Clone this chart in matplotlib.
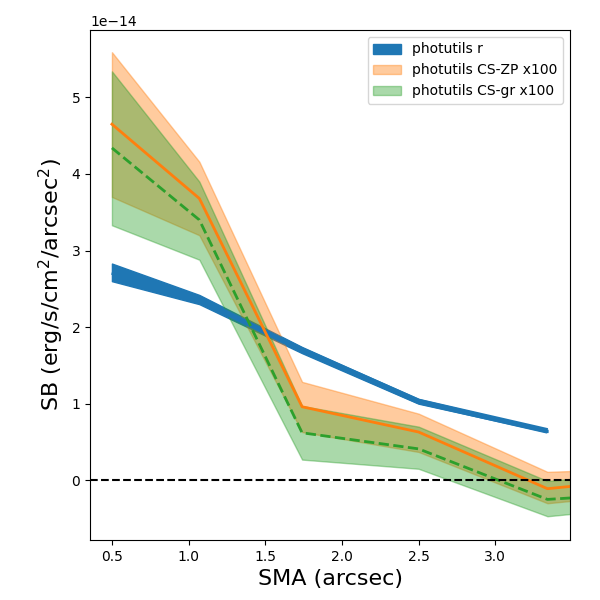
import numpy as np
import matplotlib
matplotlib.use("Agg")
import matplotlib.pyplot as plt

# SMA (arcsec)
sma = [0.5, 1.07, 1.74, 2.5, 3.34, 4.2]
sma_r = [0.5, 1.07, 1.74, 2.5, 3.34]

# photutils r (units of 1e-14)
r_mean = [2.72, 2.36, 1.70, 1.03, 0.645]
r_lo = [2.60, 2.30, 1.66, 1.00, 0.63]
r_hi = [2.83, 2.42, 1.74, 1.06, 0.66]

# photutils CS-ZP x100
zp_mean = [4.65, 3.68, 0.96, 0.63, -0.11, 0.06]
zp_lo = [3.70, 3.20, 0.63, 0.37, -0.30, -0.13]
zp_hi = [5.59, 4.16, 1.285, 0.87, 0.11, 0.17]

# photutils CS-gr x100
gr_mean = [4.34, 3.40, 0.62, 0.41, -0.25, -0.14]
gr_lo = [3.33, 2.88, 0.27, 0.15, -0.47, -0.30]
gr_hi = [5.34, 3.90, 0.97, 0.70, -0.01, 0.15]

scale = 1e-14
def s(a):
    return np.array(a) * scale

fig = plt.figure(figsize=(6, 6), dpi=100)
ax = fig.add_axes([0.15, 0.1, 0.80, 0.85])

ax.fill_between(sma_r, s(r_lo), s(r_hi), color="C0", alpha=1.0, label="photutils r")
ax.plot(sma_r, s(r_mean), color="C0", lw=4, solid_capstyle="butt")
ax.fill_between(sma, s(zp_lo), s(zp_hi), color="C1", alpha=0.4, label="photutils CS-ZP x100")
ax.fill_between(sma, s(gr_lo), s(gr_hi), color="C2", alpha=0.4, label="photutils CS-gr x100")
ax.plot(sma, s(zp_mean), color="C1", lw=2)
ax.plot(sma, s(gr_mean), color="C2", lw=2, ls="--")
ax.axhline(0, color="k", ls="--", lw=1.5)

ax.set_xlim(0.357, 3.487)
ax.set_ylim(-0.78e-14, 5.88e-14)
ax.set_xlabel("SMA (arcsec)", fontsize=16)
ax.set_ylabel("SB (erg/s/cm$^2$/arcsec$^2$)", fontsize=16)
ax.legend(loc="upper right")

fig.savefig("out.png", dpi=100)
